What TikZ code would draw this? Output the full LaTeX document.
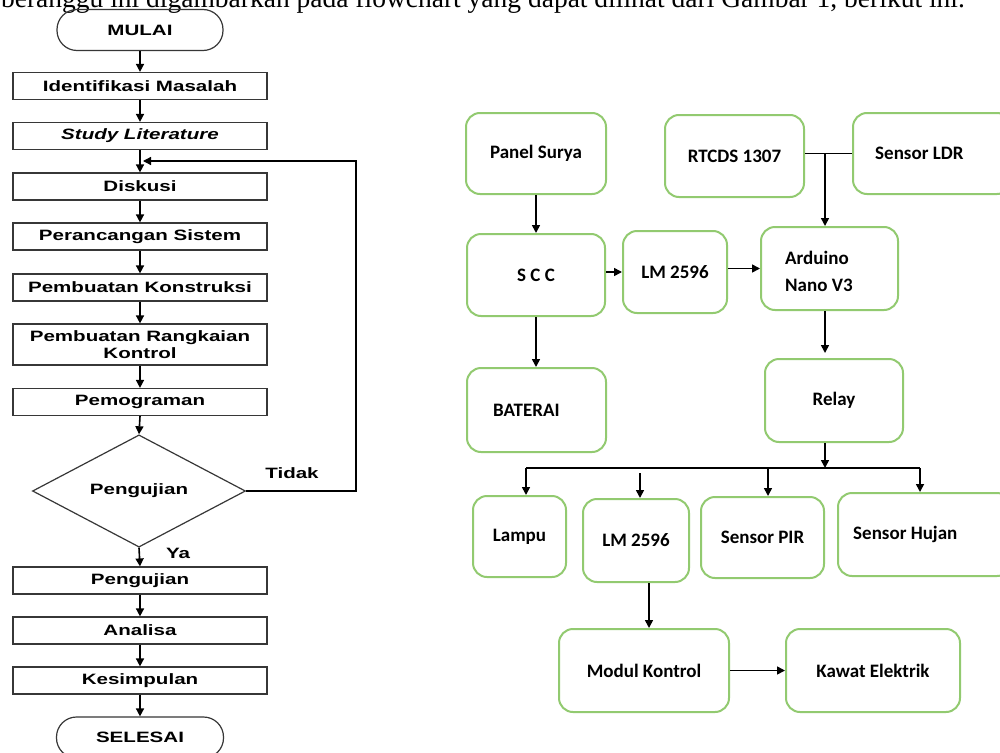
\documentclass[tikz,border=0pt]{standalone}
\usepackage{fontspec}
\setmainfont{Liberation Serif}
\newfontfamily\arialw[FakeStretch=1.37]{Liberation Sans}
\newfontfamily\calibri{Carlito}
\usetikzlibrary{arrows.meta,shapes.geometric,calc}
\definecolor{boxgreen}{RGB}{146,202,112}
\definecolor{flowgray}{RGB}{55,55,55}
\begin{document}
\begin{tikzpicture}[x=1pt,y=-1pt,
  ffont/.style={font=\arialw\bfseries\fontsize{15}{17}\selectfont},
  fbox/.style={ffont,draw=flowgray,line width=1.2pt,rectangle,minimum width=254pt,minimum height=27pt,inner sep=0pt,align=center},
  term/.style={fbox,rounded corners=20pt,minimum width=166pt,minimum height=41pt},
  farr/.style={line width=1.6pt,-{Triangle[length=8pt,width=8pt]}},
  gfont/.style={font=\calibri\bfseries\fontsize{19}{27}\selectfont},
  gbox/.style={gfont,draw=boxgreen,line width=2pt,rounded corners=14pt,inner sep=0pt,align=center},
  gtext/.style={gfont,anchor=west,align=left,inner sep=0pt},
  garr/.style={line width=1.6pt,-{Triangle[length=8pt,width=8pt]}},
  gline/.style={line width=1.6pt},
]
\useasboundingbox (0,0) rectangle (1000,752);
\clip (0,0) rectangle (1000,752);
\fill[white] (0,0) rectangle (1000,752);

% caption line (cut at top, as in the reference)
\node[anchor=base east,inner sep=0pt,font=\fontsize{27.5}{30}\selectfont] (cap) at (965,8)
  {beranggu ini digambarkan pada flowchart yang dapat dilihat dari Gambar 1, berikut ini.};

% ---------- left flowchart ----------
\node[term] (start) at (140,30) {MULAI};
\node[fbox] (b1) at (140,86) {Identifikasi Masalah};
\node[fbox] (b2) at (140,136) {\itshape Study Literature};
\node[fbox] (b3) at (140,186.5) {Diskusi};
\node[fbox] (b4) at (140,236.5) {Perancangan Sistem};
\node[fbox] (b5) at (140,287.5) {Pembuatan Konstruksi};
\node[fbox,minimum height=41pt] (b6) at (140,344.5) {Pembuatan Rangkaian\\Kontrol};
\node[fbox] (b7) at (140,402) {Pemograman};
\node[ffont,draw=flowgray,line width=1.2pt,diamond,minimum width=213pt,minimum height=106pt,inner sep=0pt] (d) at (139,491) {Pengujian};
\node[fbox] (b8) at (140,580.5) {Pengujian};
\node[fbox] (b9) at (140,630.5) {Analisa};
\node[fbox] (b10) at (140,680.5) {Kesimpulan};
\node[term,minimum width=167pt] (stop) at (140,737.5) {SELESAI};

\node[ffont] (tidak) at (292,473) {Tidak};
\node[ffont] (ya) at (178,553) {Ya};

\draw[farr] (start.south) -- (b1.north);
\draw[farr] (b1.south) -- (b2.north);
\draw[farr] (b2.south) -- (b3.north);
\draw[farr] (b3.south) -- (b4.north);
\draw[farr] (b4.south) -- (b5.north);
\draw[farr] (b5.south) -- (b6.north);
\draw[farr] (b6.south) -- (b7.north);
\draw[farr] (b7.south) -- (d.north);
\draw[farr] (d.south) -- (b8.north);
\draw[farr] (b8.south) -- (b9.north);
\draw[farr] (b9.south) -- (b10.north);
\draw[farr] (b10.south) -- (stop.north);
\coordinate (fb) at (143,161);
\coordinate (fbr) at (356,161);
\draw[farr,line width=1.3pt] (d.east) -| (fbr) -- (fb);

% ---------- right block diagram ----------
\node[gbox,minimum width=140pt,minimum height=81pt] (ps) at (536,153.5) {Panel Surya};
\node[gbox,minimum width=139pt,minimum height=82pt] (rtc) at (734.5,156) {RTCDS 1307};
\node[gbox,minimum width=158pt,minimum height=81pt,anchor=west] (ldr) at (852,153.5) {};
\node[gtext] (ldrt) at (875,153.5) {Sensor LDR};
\node[gbox,minimum width=138pt,minimum height=82pt] (scc) at (536,275) {S C C};
\node[gbox,minimum width=104pt,minimum height=82pt] (lm1) at (675,272) {LM 2596};
\node[gbox,minimum width=137pt,minimum height=83pt] (ard) at (829.5,268.5) {};
\node[gtext] (ardt) at (785,271) {Arduino\\Nano V3};
\node[gbox,minimum width=139pt,minimum height=84pt] (bat) at (536.5,410) {};
\node[gtext] (batt) at (493,410) {BATERAI};
\node[gbox,minimum width=138pt,minimum height=83pt] (rel) at (834,400.5) {Relay};
\node[gbox,minimum width=93pt,minimum height=81pt] (lam) at (519.5,536.5) {Lampu};
\node[gbox,minimum width=106pt,minimum height=83pt] (lm2) at (636,540.5) {LM 2596};
\node[gbox,minimum width=123pt,minimum height=81pt] (pir) at (762.5,537.5) {Sensor PIR};
\node[gbox,minimum width=173pt,minimum height=83pt,anchor=west] (huj) at (837,534.5) {};
\node[gtext] (hujt) at (853,534.5) {Sensor Hujan};
\node[gbox,minimum width=170pt,minimum height=83pt] (mod) at (644,670.5) {Modul Kontrol};
\node[gbox,minimum width=174pt,minimum height=83pt] (kaw) at (873,670.5) {Kawat Elektrik};

\draw[garr] (ps.south) -- (scc.north);
\draw[garr] (lm1.west -| scc.east) -- (lm1.west);
\draw[garr] (ard.west -| lm1.east) -- (ard.west);
\coordinate (j) at (825,153.5);
\draw[gline] (ldr.west -| rtc.east) -- (ldr.west);
\draw[garr] (j) -- (j |- ard.north);
\coordinate (rin) at (825,353);
\draw[garr] (j |- ard.south) -- (rin);
\coordinate (bus) at (825,468);
\draw[garr] (j |- rel.south) -- (bus);
\coordinate (busl) at (526,468);
\coordinate (busr) at (920,468);
\coordinate (pirx) at (768,468);
\draw[gline,line width=1.3pt] (busl) -- (busr);
\draw[garr] (busl) -- (busl |- lam.north);
\draw[garr] (pirx) -- (pirx |- pir.north);
\draw[garr] (busr) -- (busr |- huj.north);
\coordinate (lm2in) at (640,473);
\draw[garr] (lm2in) -- (lm2in |- lm2.north);
\draw[garr] ([xshift=13pt]lm2.south) -- ([xshift=13pt]lm2.south |- mod.north);
\draw[garr] (scc.south) -- (scc.south |- bat.north);
\draw[garr] (mod.east) -- (kaw.west);
\end{tikzpicture}
\end{document}
